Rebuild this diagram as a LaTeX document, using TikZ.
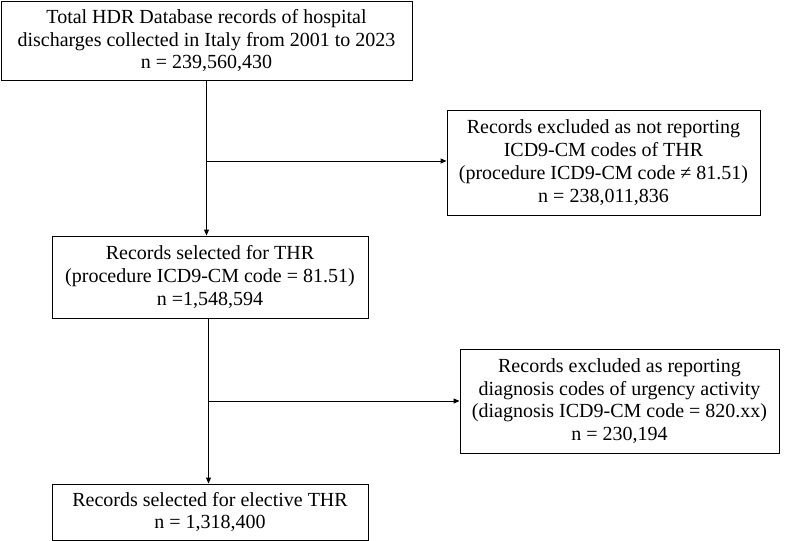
\documentclass[tikz,border=0pt]{standalone}
\usepackage{fontspec}
\setmainfont{Liberation Serif}
\usetikzlibrary{arrows.meta}
\begin{document}
\begin{tikzpicture}[x=1pt,y=-1pt,
  box/.style={draw, line width=0.9pt, align=center, inner sep=0pt,
    font=\fontsize{20}{22.8}\selectfont},
  arr/.style={line width=0.9pt, -{Triangle[length=6pt,width=5pt]}},
  ln/.style={line width=0.9pt}]
\useasboundingbox (0,0) rectangle (785,541);
\node[box, minimum width=411pt, minimum height=79pt] (b1) at (206.5,40.5)
  {Total HDR Database records of hospital\\discharges collected in Italy from 2001 to 2023\\n = 239,560,430};
\node[box, minimum width=313pt, minimum height=105pt] (b2) at (603.5,162.5)
  {Records excluded as not reporting\\ICD9-CM codes of THR\\(procedure ICD9-CM code ≠ 81.51)\\n = 238,011,836};
\node[box, minimum width=316pt, minimum height=82pt] (b3) at (210,277)
  {Records selected for THR\\(procedure ICD9-CM code = 81.51)\\n =1,548,594};
\node[box, minimum width=319pt, minimum height=104pt] (b4) at (619.5,401)
  {Records excluded as reporting\\diagnosis codes of urgency activity\\(diagnosis ICD9-CM code = 820.xx)\\n = 230,194};
\node[box, minimum width=316pt, minimum height=56pt] (b5) at (210,512)
  {Records selected for elective THR\\n = 1,318,400};
\coordinate (t1) at (206.5,80);
\coordinate (j1) at (206.5,161);
\coordinate (t2) at (208.5,318);
\coordinate (j2) at (208.5,401);
\draw[arr] (t1) -- (t1 |- b3.north);
\draw[arr] (j1) -- (j1 -| b2.west);
\draw[arr] (t2) -- (t2 |- b5.north);
\draw[arr] (j2) -- (j2 -| b4.west);
\end{tikzpicture}
\end{document}
